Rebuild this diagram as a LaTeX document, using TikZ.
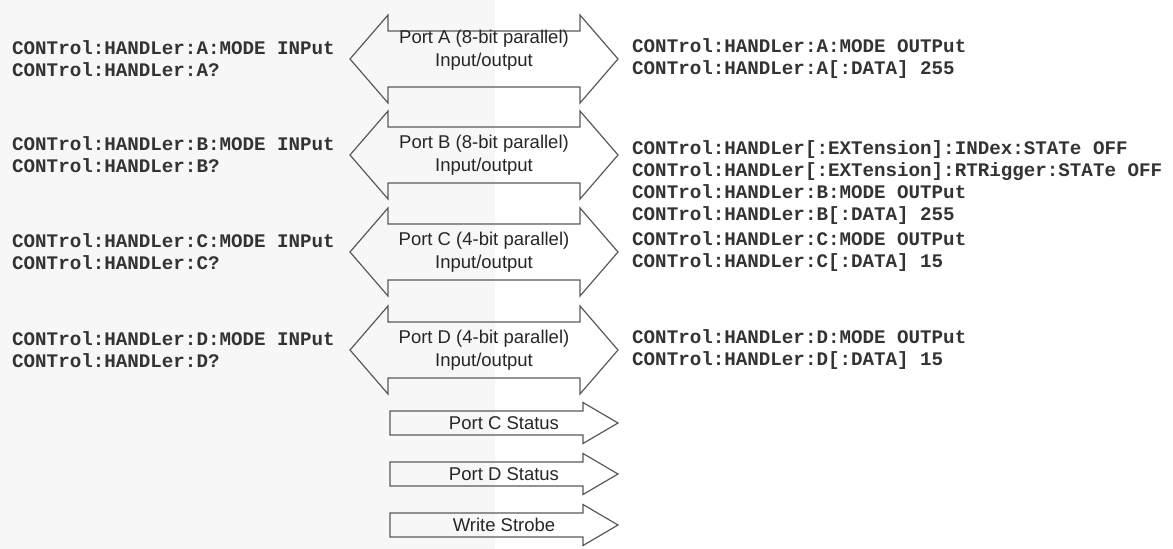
\documentclass[tikz,border=0pt]{standalone}
\usepackage{fontspec}
\setsansfont{Liberation Sans}
\setmonofont{Liberation Mono}
\usetikzlibrary{positioning}

\tikzset{
    outline/.style={draw=black!65, line width=1.2pt, line join=miter},
    portarrow/.pic={
        \draw[outline] (-96,-28) -- (96,-28) -- (96,-44) -- (134,0) -- (96,44) -- (96,28) -- (-96,28) -- (-96,44) -- (-134,0) -- (-96,-44) -- cycle;
        \coordinate (-c) at (0,0);
        \coordinate (-tail) at (-134,0);
        \coordinate (-tip) at (134,0);
    },
    statarrow/.pic={
        \draw[outline] (-114,-12) -- (79,-12) -- (79,-20.5) -- (114,0) -- (79,20.5) -- (79,12) -- (-114,12) -- cycle;
        \coordinate (-c) at (0,0);
    }
}

\begin{document}
\begin{tikzpicture}[x=1pt, y=-1pt,
                cmd/.style={font=\ttfamily\bfseries\fontsize{19.2}{22}\selectfont, align=left, inner sep=0pt, text=black!80},
                portlabel/.style={font=\sffamily\fontsize{18.5}{23}\selectfont, align=center, inner sep=0pt, text=black!85}
            ]

            % Hintergrund
            \fill[black!3] (0,0) rectangle (495,549);
            \useasboundingbox (0,0) rectangle (1173,549);

            % Ports
            \pic (portA) at (484,59) {portarrow};
            \pic (portB) at (484,155) {portarrow};
            \pic (portC) at (484,252) {portarrow};
            \pic (portD) at (484,350) {portarrow};
            \node[portlabel, yshift=9pt] (labA) at (portA-c) {Port A (8-bit parallel)\\Input/output};
            \node[portlabel] (labB) at (portB-c) {Port B (8-bit parallel)\\Input/output};
            \node[portlabel] (labC) at (portC-c) {Port C (4-bit parallel)\\Input/output};
            \node[portlabel] (labD) at (portD-c) {Port D (4-bit parallel)\\Input/output};

            % Statusleitungen
            \pic (statC) at (504,423) {statarrow};
            \pic (statD) at (504,474) {statarrow};
            \pic (strobe) at (504,525) {statarrow};
            \node[portlabel] (labSC) at (statC-c) {Port C Status};
            \node[portlabel] (labSD) at (statD-c) {Port D Status};
            \node[portlabel] (labWS) at (strobe-c) {Write Strobe};

            % Befehle
            \node[cmd, left=15pt of portA-tail] (inA) {CONTrol:HANDLer:A:MODE INPut\\CONTrol:HANDLer:A?};
            \node[cmd, left=15pt of portB-tail] (inB) {CONTrol:HANDLer:B:MODE INPut\\CONTrol:HANDLer:B?};
            \node[cmd, left=15pt of portC-tail] (inC) {CONTrol:HANDLer:C:MODE INPut\\CONTrol:HANDLer:C?};
            \node[cmd, left=15pt of portD-tail] (inD) {CONTrol:HANDLer:D:MODE INPut\\CONTrol:HANDLer:D?};
            \node[cmd, right=14pt of portA-tip] (outA) {CONTrol:HANDLer:A:MODE OUTPut\\CONTrol:HANDLer:A[:DATA] 255};
            \node[cmd, right=14pt of portB-tip, yshift=-28pt] (outB) {CONTrol:HANDLer[:EXTension]:INDex:STATe OFF\\CONTrol:HANDLer[:EXTension]:RTRigger:STATe OFF\\CONTrol:HANDLer:B:MODE OUTPut\\CONTrol:HANDLer:B[:DATA] 255};
            \node[cmd, right=14pt of portC-tip] (outC) {CONTrol:HANDLer:C:MODE OUTPut\\CONTrol:HANDLer:C[:DATA] 15};
            \node[cmd, right=14pt of portD-tip] (outD) {CONTrol:HANDLer:D:MODE OUTPut\\CONTrol:HANDLer:D[:DATA] 15};

        \end{tikzpicture}
\end{document}
